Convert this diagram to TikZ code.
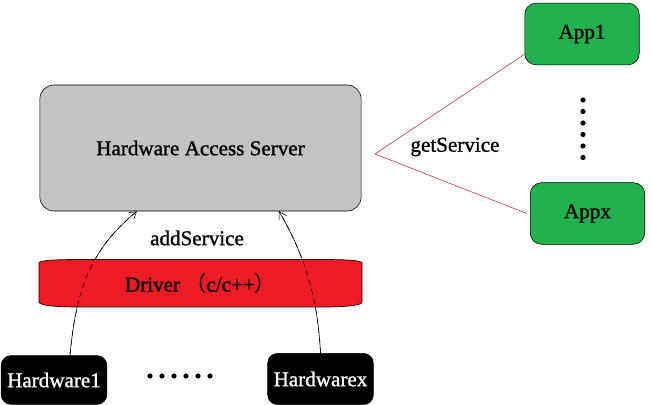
\documentclass[tikz,border=0pt]{standalone}
\usepackage{fontspec}
\setmainfont{Liberation Serif}[FakeBold=1.2]
\newfontfamily\cjk{Noto Sans CJK SC}
\usetikzlibrary{arrows.meta}
\definecolor{servergray}{RGB}{195,195,195}
\definecolor{driverred}{RGB}{237,28,36}
\definecolor{appgreen}{RGB}{34,177,76}
\definecolor{linkred}{RGB}{185,45,55}
\begin{document}
\begin{tikzpicture}[x=0.025cm, y=-0.025cm, font=\fontsize{15}{18}\selectfont,
    dot/.style={fill, circle, inner sep=0pt, minimum size=0.13cm},
    hwbox/.style={draw, fill=black, text=white, rounded corners=7pt, minimum width=2.64cm, minimum height=1.22cm},
    appbox/.style={draw, fill=appgreen, rounded corners=8pt, minimum width=2.86cm, minimum height=1.54cm},
    tip/.style={-{Straight Barb[length=5pt,width=6pt]}}]
      \useasboundingbox (0,0) rectangle (652,405);

      % Servidor
      \node[draw, fill=servergray, rounded corners=10pt, minimum width=8.03cm, minimum height=3.15cm] (server) at (200.5,148) {Hardware Access Server};
      \node (add) at (197,238) {addService};

      % Hardware
      \node[hwbox] (hwone) at (54,380) {Hardware1};
      \node[hwbox, minimum height=1.28cm] (hwx) at (320.5,379) {Hardwarex};
      \node[dot] (h1) at (150,376) {};
      \node[dot] (h2) at (162,376) {};
      \node[dot] (h3) at (174,376) {};
      \node[dot] (h4) at (186,376) {};
      \node[dot] (h5) at (198,376) {};
      \node[dot] (h6) at (210,376) {};

      % Setas addService
      \draw[tip] ([xshift=0.4cm]hwone.north) .. controls (76,290) and (90,250) .. ([xshift=-1.59cm]server.south);
      \draw[tip] (hwx.north) .. controls (318,300) and (305,255) .. ([xshift=1.96cm]server.south);

      % Driver por cima das setas
      \filldraw[fill=driverred, draw=black!85!red, line width=0.5pt]
        (39,263) .. controls (39,260) and (60,259.5) .. (80,259.5) -- (321,259.5)
        .. controls (341,259.5) and (362,260) .. (362,263) -- (362,302)
        .. controls (362,306) and (341,307) .. (321,307) -- (80,307)
        .. controls (60,307) and (39,306) .. (39,302) -- cycle;
      \node (driver) at (200.5,283.5) {Driver\ {\cjk （}c/c++{\cjk ）}};
      \draw[dash pattern=on 4pt off 3pt] ([xshift=0.4cm]hwone.north) .. controls (76,290) and (90,250) .. ([xshift=-1.59cm]server.south);
      \draw[dash pattern=on 4pt off 3pt] (hwx.north) .. controls (318,300) and (305,255) .. ([xshift=1.96cm]server.south);

      % Aplicativos
      \node[appbox] (appone) at (582,34) {App1};
      \node[appbox] (appx) at (587.5,213.5) {Appx};
      \node[dot] (v1) at (583,100) {};
      \node[dot] (v2) at (583,111.5) {};
      \node[dot] (v3) at (583,123) {};
      \node[dot] (v4) at (583,134.5) {};
      \node[dot] (v5) at (583,146) {};
      \node[dot] (v6) at (583,157.5) {};
      \node (get) at (455,147) {getService};

      % Linhas getService
      \coordinate (apex) at (375,154);
      \draw[linkred] (apex) -- ([yshift=0.27cm]appone.south west);
      \draw[linkred] (apex) -- ([xshift=-0.08cm]appx.west);
    \end{tikzpicture}
\end{document}
